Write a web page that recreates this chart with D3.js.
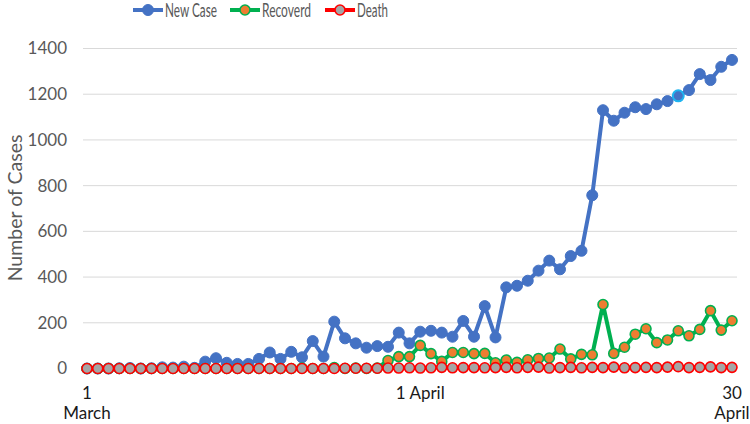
<!DOCTYPE html>
<html>
<head>
<meta charset="utf-8">
<script src="https://cdn.jsdelivr.net/npm/d3@7"></script>
<style>
  body { margin: 0; background: #fff; }
  svg { display: block; font-family: Lato, "Open Sans", sans-serif; }
</style>
</head>
<body>
<svg id="chart" width="750" height="424"></svg>
<script>
// days, 1 March .. 30 April
const days = [
  "1 Mar","2 Mar","3 Mar","4 Mar","5 Mar","6 Mar","7 Mar","8 Mar","9 Mar","10 Mar",
  "11 Mar","12 Mar","13 Mar","14 Mar","15 Mar","16 Mar","17 Mar","18 Mar","19 Mar","20 Mar",
  "21 Mar","22 Mar","23 Mar","24 Mar","25 Mar","26 Mar","27 Mar","28 Mar","29 Mar","30 Mar",
  "31 Mar","1 Apr","2 Apr","3 Apr","4 Apr","5 Apr","6 Apr","7 Apr","8 Apr","9 Apr",
  "10 Apr","11 Apr","12 Apr","13 Apr","14 Apr","15 Apr","16 Apr","17 Apr","18 Apr","19 Apr",
  "20 Apr","21 Apr","22 Apr","23 Apr","24 Apr","25 Apr","26 Apr","27 Apr","28 Apr","29 Apr",
  "30 Apr"
];

const newCase = [
  0,0,0,1,2,0,1,5,4,8,
  3,30,45,25,20,20,42,70,42,73,
  49,120,52,205,132,110,91,98,95,157,
  110,161,165,157,139,208,139,273,136,355,
  362,384,428,472,434,492,515,758,1130,1084,
  1119,1143,1135,1156,1170,1193,1218,1288,1262,1320,
  1350
];

const recovered = [
  0,0,0,0,0,0,0,0,0,0,
  0,0,0,0,0,0,0,0,0,0,
  2,0,0,4,0,2,0,2,35,52,
  52,101,65,31,70,70,65,66,25,37,
  27,38,44,46,85,42,62,60,280,66,
  93,150,174,113,125,165,143,171,253,168,
  209
];

const death = [
  0,0,0,0,0,0,0,0,0,0,
  0,0,0,0,0,0,0,0,0,0,
  0,0,0,0,1,1,1,1,2,2,
  3,2,3,5,3,4,4,3,4,5,
  3,5,6,2,4,5,3,5,4,6,
  3,4,5,4,6,8,4,5,7,4,
  5
];

const yTicks = [0, 200, 400, 600, 800, 1000, 1200, 1400];
const xTicks = [
  { day: "1 Mar", lines: ["1", "March"] },
  { day: "1 Apr", lines: ["1 April"] },
  { day: "30 Apr", lines: ["30", "April"] }
];
const highlightDay = "25 Apr";

const series = [
  { name: "New Case", values: newCase, line: "#4472C4", fill: "#4472C4", stroke: "#4472C4", r: 5.5, sw: 1, textW: 52 },
  { name: "Recoverd", values: recovered, line: "#00B050", fill: "#ED7D31", stroke: "#00B050", r: 5, sw: 1.6, textW: 49 },
  { name: "Death", values: death, line: "#FF0000", fill: "#A5A5A5", stroke: "#FF0000", r: 5, sw: 1.6, textW: 31 }
];

const svg = d3.select("#chart");

const x = d3.scalePoint().domain(days).range([87, 732]);
const y = d3.scaleLinear().domain([0, 1400]).range([368.5, 48.5]);

// gridlines
svg.append("g")
  .selectAll("line")
  .data(yTicks)
  .join("line")
  .attr("x1", 83).attr("x2", 737)
  .attr("y1", d => y(d)).attr("y2", d => y(d))
  .attr("stroke", "#d9d9d9")
  .attr("stroke-width", 1);

// y axis labels
const yAxis = svg.append("g")
  .attr("transform", "translate(67,0)")
  .call(d3.axisLeft(y).tickValues(yTicks).tickFormat(d3.format("d")).tickSize(0).tickPadding(0));
yAxis.select(".domain").remove();
yAxis.selectAll("text")
  .attr("font-family", "Lato, sans-serif")
  .attr("font-size", 17)
  .attr("fill", "#595959");

svg.append("text")
  .attr("transform", "translate(17,208) rotate(-90)")
  .attr("text-anchor", "middle")
  .attr("dominant-baseline", "middle")
  .attr("font-size", 19.5)
  .attr("fill", "#595959")
  .text("Number of Cases");

// x labels
const xLab = svg.append("g")
  .selectAll("text")
  .data(xTicks)
  .join("text")
  .attr("text-anchor", "middle")
  .attr("font-size", 17)
  .attr("fill", "#1a1a1a");
xLab.selectAll("tspan")
  .data(d => d.lines.map(l => ({ l, day: d.day })))
  .join("tspan")
  .attr("x", d => x(d.day))
  .attr("y", (d, i) => 399 + i * 20)
  .text(d => d.l);

// series
const line = d3.line().x((d, i) => x(days[i])).y(d => y(d));

series.forEach(s => {
  svg.append("path")
    .datum(s.values)
    .attr("d", line)
    .attr("fill", "none")
    .attr("stroke", s.line)
    .attr("stroke-width", 4)
    .attr("stroke-linejoin", "round");
  svg.append("g")
    .selectAll("circle")
    .data(s.values)
    .join("circle")
    .attr("cx", (d, i) => x(days[i]))
    .attr("cy", d => y(d))
    .attr("r", s.r)
    .attr("fill", s.fill)
    .attr("stroke", (d, i) => (s.name === "New Case" && days[i] === highlightDay) ? "#1EB4F0" : s.stroke)
    .attr("stroke-width", (d, i) => (s.name === "New Case" && days[i] === highlightDay) ? 2 : s.sw);
});

// legend
const legendX = [133, 230, 325];
const legend = svg.append("g")
  .selectAll("g")
  .data(series)
  .join("g")
  .attr("transform", (d, i) => `translate(${legendX[i]},10)`);
legend.append("line")
  .attr("x1", 0).attr("x2", 30)
  .attr("stroke", d => d.line)
  .attr("stroke-width", 4);
legend.append("circle")
  .attr("cx", 15).attr("r", d => d.r)
  .attr("fill", d => d.fill)
  .attr("stroke", d => d.stroke)
  .attr("stroke-width", d => d.sw);
legend.append("text")
  .attr("x", 32)
  .attr("dominant-baseline", "central")
  .attr("font-size", 18.5)
  .attr("textLength", d => d.textW)
  .attr("lengthAdjust", "spacingAndGlyphs")
  .attr("fill", "#595959")
  .text(d => d.name);
</script>
</body>
</html>
